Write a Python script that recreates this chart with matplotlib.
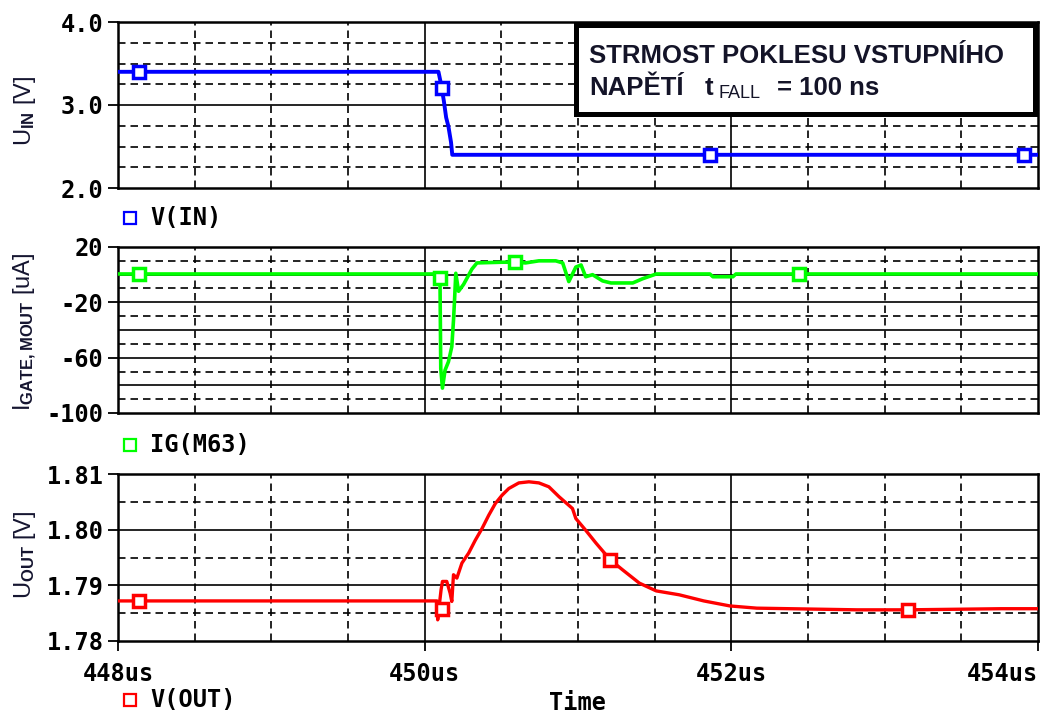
import matplotlib
matplotlib.use('Agg')
import matplotlib.pyplot as plt
from matplotlib.lines import Line2D
from matplotlib.patches import Rectangle

plt.rcParams['font.family'] = ['DejaVu Sans Mono']
plt.rcParams['font.weight'] = 'bold'
plt.rcParams['mathtext.fontset'] = 'custom'
plt.rcParams['mathtext.rm'] = 'Liberation Sans'
plt.rcParams['mathtext.it'] = 'Liberation Sans:italic'
plt.rcParams['mathtext.bf'] = 'Liberation Sans:bold'

# ---------------- data ----------------
# V(IN) [V] vs time [us]
t_in = [448.0, 450.09, 450.107, 450.125, 450.14, 450.155, 450.172, 450.18, 454.0]
v_in = [3.4, 3.4, 3.25, 3.05, 2.85, 2.74, 2.55, 2.40, 2.40]
mk_t_in = [448.14, 450.11, 451.86, 453.91]
mk_v_in = [3.4, 3.2, 2.4, 2.4]

# IG(M63) [uA]
t_ig = [448.0, 450.09, 450.10, 450.105, 450.116, 450.133, 450.155, 450.177, 450.188,
        450.195, 450.203, 450.221, 450.254, 450.308, 450.341, 450.505, 450.592, 450.658,
        450.745, 450.855, 450.90, 450.94, 450.986, 451.02, 451.05, 451.095, 451.16,
        451.215, 451.357, 451.42, 451.51, 451.86, 451.88, 452.01, 452.03, 454.0]
i_ig = [0.5, 0.5, -4, -68, -82, -69, -63, -52, -33,
        -18, 1, -12, -7, 4, 8.5, 9, 9, 8.5,
        10, 10, 8.5, -5, 5.5, 7, -1.5, 0, -4.5,
        -6, -6, -3, 0.5, 0.5, -1.5, -1.5, 0.5, 0.5]
mk_t_ig = [448.14, 450.10, 450.59, 452.44]
mk_i_ig = [0.5, -2.5, 9, 0.5]

# V(OUT) [V]
t_out = [448.0, 450.08, 450.085, 450.094, 450.107, 450.116, 450.144, 450.166, 450.177,
         450.188, 450.21, 450.243, 450.287, 450.33, 450.374, 450.418, 450.461, 450.505,
         450.549, 450.614, 450.68, 450.745, 450.81, 450.877, 450.964, 450.986, 451.05,
         451.117, 451.21, 451.29, 451.40, 451.51, 451.66, 451.82, 451.99, 452.166,
         452.82, 453.15, 453.76, 454.0]
v_out = [1.7872, 1.7872, 1.7838, 1.7861, 1.7892, 1.7907, 1.7907, 1.7886, 1.7871,
         1.7919, 1.7913, 1.7940, 1.7958, 1.7981, 1.8002, 1.8026, 1.8047, 1.8062,
         1.8074, 1.8084, 1.8086, 1.8084, 1.8077, 1.8059, 1.8038, 1.8020, 1.7999,
         1.7976, 1.7946, 1.7928, 1.7904, 1.7890, 1.7883, 1.7872, 1.7863, 1.7859,
         1.7856, 1.7856, 1.7858, 1.7858]
mk_t_out = [448.14, 450.11, 451.21, 453.15]
mk_v_out = [1.7872, 1.7857, 1.7946, 1.7856]

x_ticks = [448, 450, 452, 454]
x_ticklabels = ['448us', '450us', '452us', '454us']
top_ticks = [4.0, 3.0, 2.0]
top_ticklabels = ['4.0', '3.0', '2.0']
mid_ticks = [20, -20, -60, -100]
mid_ticklabels = ['20', '-20', '-60', '-100']
bot_ticks = [1.81, 1.80, 1.79, 1.78]
bot_ticklabels = ['1.81', '1.80', '1.79', '1.78']

# grid positions
x_major = [450, 452]
x_minor = [448.5, 449, 449.5, 450.5, 451, 451.5, 452.5, 453, 453.5]
top_major = [3.0]
top_minor = [2.25, 2.5, 2.75, 3.25, 3.5, 3.75]
mid_major = [0, -20, -40, -60, -80]
mid_minor = [10, -10, -30, -50, -70, -90]
bot_major = [1.80, 1.79]
bot_minor = [1.805, 1.795, 1.785]

# ---------------- figure ----------------
W, H = 1051, 716
fig = plt.figure(figsize=(W / 100, H / 100), dpi=100)

def fx(px):
    return px / W

def fy(py):
    return 1 - py / H

def make_axes(top, bottom):
    return fig.add_axes([fx(118), fy(bottom), fx(1038) - fx(118), fy(top) - fy(bottom)])

DASH = (0, (4.5, 3.0))
GRID_LW = 1.2
MONO = 17

def style(ax, ylim, yticks, ylabels, hmaj, hmin, show_x):
    ax.set_xlim(448, 454)
    ax.set_ylim(*ylim)
    for s in ax.spines.values():
        s.set_linewidth(1.8)
    for x in x_major:
        ax.axvline(x, color='black', lw=GRID_LW, zorder=1)
    for x in x_minor:
        ax.axvline(x, color='black', lw=GRID_LW, ls=DASH, zorder=1)
    for y in hmaj:
        ax.axhline(y, color='black', lw=GRID_LW, zorder=1)
    for y in hmin:
        ax.axhline(y, color='black', lw=GRID_LW, ls=DASH, zorder=1)
    ax.set_yticks(yticks, labels=ylabels)
    ax.tick_params(axis='y', direction='out', length=7, width=1.3, pad=3.5,
                   labelsize=MONO)
    if show_x:
        ax.set_xticks(x_ticks, labels=x_ticklabels)
        ax.tick_params(axis='x', direction='out', length=7, width=1.3, pad=8,
                       labelsize=MONO)
        labs = ax.get_xticklabels()
        labs[-1].set_horizontalalignment('right')
    else:
        ax.set_xticks([])

ax1 = make_axes(22, 188)
style(ax1, (2.0, 4.0), top_ticks, top_ticklabels, top_major, top_minor, False)
ax1.plot(t_in, v_in, color='#0000ff', lw=2.8, zorder=3)
ax1.plot(mk_t_in, mk_v_in, 's', ms=8, mfc='white', mec='#0000ff', mew=2.5, zorder=4)

ax2 = make_axes(247, 413)
style(ax2, (-100, 20), mid_ticks, mid_ticklabels, mid_major, mid_minor, False)
ax2.plot(t_ig, i_ig, color='#00ff00', lw=2.6, zorder=3)
ax2.plot(mk_t_ig, mk_i_ig, 's', ms=8, mfc='white', mec='#00ff00', mew=2.5, zorder=4)

ax3 = make_axes(474, 641)
style(ax3, (1.78, 1.81), bot_ticks, bot_ticklabels, bot_major, bot_minor, True)
ax3.plot(t_out, v_out, color='#ff0000', lw=2.4, zorder=3)
ax3.plot(mk_t_out, mk_v_out, 's', ms=8, mfc='white', mec='#ff0000', mew=2.5, zorder=4)

# legends
def legend(py, text, color, tx=150):
    fig.add_artist(Line2D([fx(130)], [fy(py)], marker='s', ms=8, mfc='white',
                          mec=color, mew=1.6, transform=fig.transFigure))
    fig.text(fx(tx), fy(py), text, fontsize=MONO, fontweight='bold',
             ha='left', va='center')

legend(218, 'V(IN)', '#0000ff')
legend(445, 'IG(M63)', '#00ff00')
legend(700, 'V(OUT)', '#ff0000')

fig.text(fx(577), fy(703), 'Time', fontsize=MONO, fontweight='bold', ha='center', va='center')

# y labels
LAB = '#151530'
fig.text(fx(25), fy(111), r'U$_\mathrm{IN}$ [V]', rotation=90, fontsize=17,
         family='Liberation Sans', fontweight='normal', color=LAB, ha='center', va='center')
fig.text(fx(25), fy(332), r'I$_\mathrm{GATE,MOUT}$ [uA]', rotation=90, fontsize=17,
         family='Liberation Sans', fontweight='normal', color=LAB, ha='center', va='center')
fig.text(fx(25), fy(555), r'U$_\mathrm{OUT}$ [V]', rotation=90, fontsize=17,
         family='Liberation Sans', fontweight='normal', color=LAB, ha='center', va='center')

# title box
rect = Rectangle((fx(575.5), fy(113.5)), fx(1035) - fx(575.5), fy(24.5) - fy(113.5),
                 transform=fig.transFigure, fc='white', ec='black', lw=3.6, zorder=10)
fig.add_artist(rect)
TC = '#141428'
fig.text(fx(589), fy(63), 'STRMOST POKLESU VSTUPNÍHO', fontsize=18.5, fontweight='bold',
         family='Liberation Sans', color=TC, ha='left', va='baseline', zorder=11)
fig.text(fx(589), fy(95), 'NAPĚTÍ', fontsize=18.5, fontweight='bold',
         family='Liberation Sans', color=TC, ha='left', va='baseline', zorder=11)
fig.text(fx(705), fy(95), 't', fontsize=18.5, fontweight='bold',
         family='Liberation Sans', color=TC, ha='left', va='baseline', zorder=11)
fig.text(fx(718), fy(98), 'FALL', fontsize=13, fontweight='normal',
         family='Liberation Sans', color=TC, ha='left', va='baseline', zorder=11)
fig.text(fx(777), fy(95), '= 100 ns', fontsize=18.5, fontweight='bold',
         family='Liberation Sans', color=TC, ha='left', va='baseline', zorder=11)

fig.savefig('out.png', dpi=100)
